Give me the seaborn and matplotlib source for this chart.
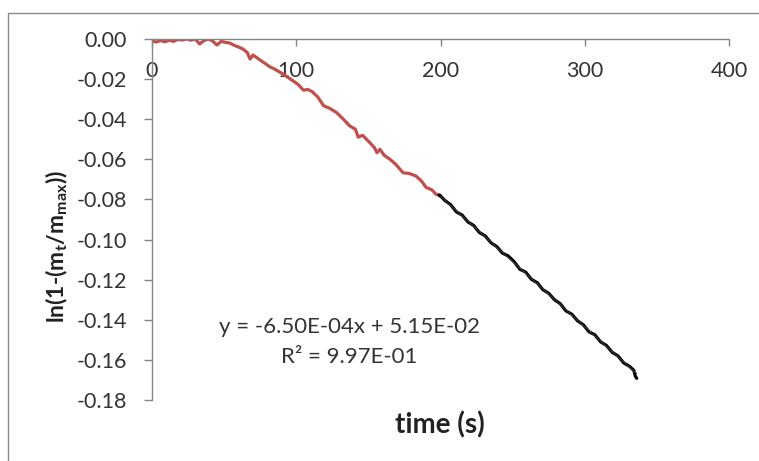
import numpy as np
import pandas as pd
import matplotlib
matplotlib.use("Agg")
import matplotlib.pyplot as plt
from matplotlib.patches import Rectangle
import seaborn as sns

# early part of the run (red)
t_early = [0, 3, 6, 9, 12, 15, 18, 21, 24, 27, 30, 33, 36, 39, 42, 45, 48, 51, 54, 57,
           60, 63, 66, 68, 70, 73, 76, 79, 82, 85, 89, 93, 97, 101, 105, 108, 111, 115,
           119, 123, 128, 132, 137, 141, 143, 146, 151, 154, 156, 158, 161, 165, 169,
           174, 178, 183, 187, 190, 194, 197, 200]
ln_early = [-0.0010, -0.0015, -0.0008, -0.0014, -0.0006, -0.0012, -0.0002, -0.0005,
            0.0000, -0.0006, 0.0000, -0.0025, -0.0008, 0.0000, -0.0010, -0.0030, -0.0012,
            -0.0017, -0.0020, -0.0032, -0.0040, -0.0050, -0.0067, -0.0100, -0.0080,
            -0.0095, -0.0110, -0.0125, -0.0140, -0.0150, -0.0167, -0.0185, -0.0205,
            -0.0225, -0.0255, -0.0252, -0.0262, -0.0290, -0.0333, -0.0345, -0.0367,
            -0.0395, -0.0433, -0.0450, -0.0490, -0.0480, -0.0517, -0.0540, -0.0567,
            -0.0550, -0.0580, -0.0600, -0.0625, -0.0667, -0.0670, -0.0683, -0.0710,
            -0.0740, -0.0752, -0.0775, -0.0780]

# fitted part of the run (black)
t_fit = [199, 201, 203, 207, 211, 215, 219, 223, 227, 231, 235, 239, 243, 247, 251, 255,
         259, 263, 267, 271, 275, 279, 283, 287, 291, 295, 299, 303, 307, 311, 315, 319,
         323, 327, 331, 334, 335, 336]
ln_fit = [-0.0778, -0.0790, -0.0805, -0.0826, -0.0862, -0.0878, -0.0912, -0.0930,
          -0.0965, -0.0982, -0.1016, -0.1035, -0.1068, -0.1082, -0.1110, -0.1148,
          -0.1162, -0.1198, -0.1215, -0.1250, -0.1268, -0.1300, -0.1320, -0.1356,
          -0.1372, -0.1405, -0.1425, -0.1460, -0.1475, -0.1510, -0.1528, -0.1562,
          -0.1580, -0.1615, -0.1632, -0.1652, -0.1680, -0.1692]

# linear trendline
slope = -6.50e-04
intercept = 5.15e-02
trend_t = [200, 336]

x_ticks = [0, 100, 200, 300, 400]
y_ticks = [0.00, -0.02, -0.04, -0.06, -0.08, -0.10, -0.12, -0.14, -0.16, -0.18]

sns.set_theme(style="white")
plt.rcParams["font.family"] = ["Lato", "DejaVu Sans"]
plt.rcParams["mathtext.default"] = "regular"

fig = plt.figure(figsize=(7.59, 4.61), dpi=100)
ax = fig.add_axes([152 / 759, 1 - 400 / 461, 577 / 759, 361 / 461])

early = pd.DataFrame({"t": t_early, "ln": ln_early})
late = pd.DataFrame({"t": t_fit, "ln": ln_fit})
trend = pd.DataFrame({"t": trend_t, "ln": [slope * t + intercept for t in trend_t]})

sns.lineplot(data=early, x="t", y="ln", color="#C0504D", linewidth=2.3, sort=False,
             estimator=None, ax=ax)
sns.lineplot(data=late, x="t", y="ln", color="black", linewidth=2.3, sort=False,
             estimator=None, ax=ax)
sns.lineplot(data=trend, x="t", y="ln", color="#3a3a3a", linewidth=0.8, ax=ax)

ax.set_xlim(0, 400)
ax.set_ylim(-0.18, 0)
ax.set_xticks(x_ticks)
ax.set_yticks(y_ticks)
ax.set_yticklabels([f"{v:.2f}" for v in y_ticks])
ax.set_xlabel("")
ax.set_ylabel("")

spine_col = "#868686"
for s in ["top", "right"]:
    ax.spines[s].set_visible(False)
ax.spines["bottom"].set_position(("data", 0))
ax.spines["bottom"].set_color(spine_col)
ax.spines["left"].set_color(spine_col)
ax.spines["bottom"].set_linewidth(1.0)
ax.spines["left"].set_linewidth(1.0)
ax.tick_params(axis="x", bottom=True, direction="out", length=5, width=1,
               color=spine_col, pad=11, labelsize=15.5, labelcolor="#333333")
ax.tick_params(axis="y", left=True, direction="out", length=6, width=1,
               color=spine_col, pad=12, labelsize=15.5, labelcolor="#333333")

ax.text(136.8, -0.1435, "y = -6.50E-04x + 5.15E-02", ha="center", va="center",
        fontsize=16, color="#333333")
ax.text(136.8, -0.1585, "R² = 9.97E-01", ha="center", va="center",
        fontsize=16, color="#333333")

fig.text(440 / 759, 1 - 425 / 461, "time (s)", ha="center", va="center",
         fontsize=20, fontweight="bold", color="#222222")
fig.text(57 / 759, 1 - 246 / 461, r"ln(1-(m$_t$/m$_{max}$))", ha="center", va="center",
         rotation=90, fontsize=16.5, fontweight="bold", color="#222222")

fig.patches.append(Rectangle((8 / 759, -0.01), 1.0, 1 - 13 / 461 + 0.01,
                             transform=fig.transFigure, fill=False,
                             edgecolor="#8a8a8a", linewidth=1.0))

fig.savefig("out.png", dpi=100)
